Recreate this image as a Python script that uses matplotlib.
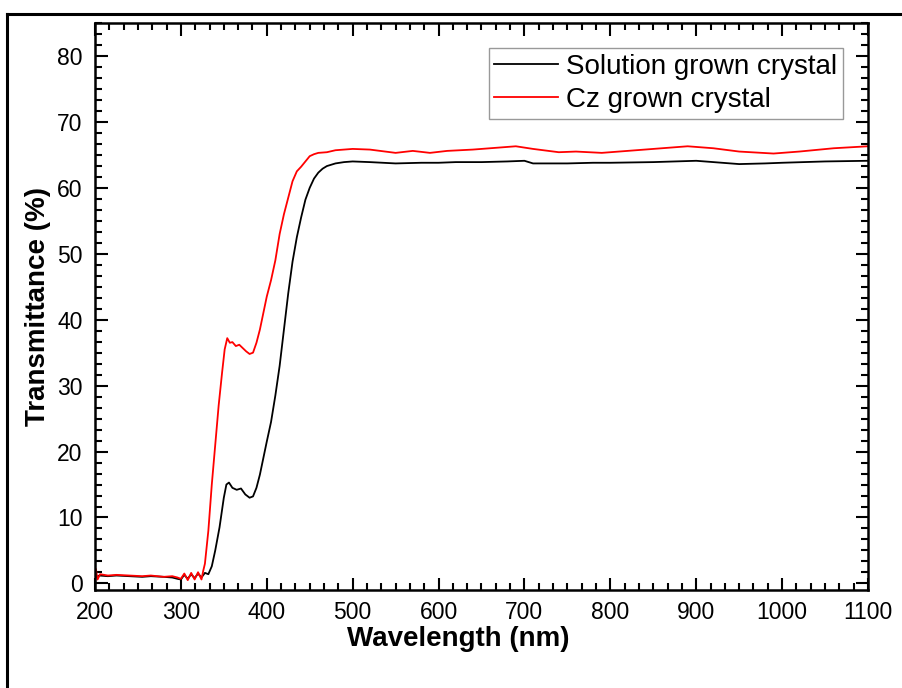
import matplotlib
matplotlib.use("Agg")
import matplotlib.pyplot as plt
from matplotlib.ticker import MultipleLocator, AutoMinorLocator
from matplotlib.lines import Line2D

plt.rcParams['font.family'] = ['Liberation Sans', 'DejaVu Sans']

# Solution grown crystal (black)
wl_sol = [200, 202, 205, 215, 225, 240, 255, 265, 280, 290, 296, 300, 304, 308, 312, 316, 320, 324,
          328, 332, 336, 340, 345, 350, 353, 356, 360, 365, 370, 375, 380, 384, 388, 392, 396, 400,
          405, 410, 415, 420, 425, 430, 435, 440, 445, 450, 455, 460, 465, 470, 480, 490, 500, 520,
          550, 580, 600, 620, 650, 680, 700, 710, 750, 780, 800, 850, 900, 930, 950, 980, 1000,
          1050, 1100]
t_sol = [1.6, 1.0, 1.2, 1.1, 1.2, 1.1, 1.0, 1.1, 1.0, 0.9, 0.7, 0.6, 1.3, 0.7, 1.4, 0.8, 1.5, 0.9,
         1.6, 1.4, 2.6, 5.0, 8.5, 13.0, 15.0, 15.3, 14.5, 14.2, 14.4, 13.5, 13.0, 13.2, 14.5, 16.5,
         19.0, 21.5, 24.5, 28.5, 33.0, 38.5, 44.0, 48.8, 52.5, 55.5, 58.2, 60.0, 61.4, 62.3, 62.9,
         63.3, 63.7, 63.9, 64.0, 63.9, 63.7, 63.8, 63.8, 63.9, 63.9, 64.0, 64.1, 63.7, 63.7, 63.8,
         63.8, 63.9, 64.1, 63.8, 63.6, 63.7, 63.8, 64.0, 64.1]

# Cz grown crystal (red)
wl_cz = [200, 201, 203, 206, 215, 225, 240, 255, 265, 280, 290, 296, 300, 304, 308, 312, 316, 320,
         324, 326, 328, 332, 336, 340, 344, 348, 351, 354, 357, 360, 364, 368, 372, 376, 380, 384,
         388, 392, 396, 400, 405, 410, 415, 420, 425, 430, 435, 440, 445, 450, 455, 460, 470, 480,
         490, 500, 520, 550, 570, 590, 610, 640, 660, 690, 710, 740, 760, 790, 820, 860, 890, 920,
         950, 990, 1020, 1060, 1100]
t_cz = [0.3, 2.2, 0.6, 1.4, 1.2, 1.3, 1.2, 1.1, 1.2, 1.0, 1.1, 0.9, 0.7, 1.5, 0.5, 1.6, 0.6, 1.7,
        0.6, 1.9, 3.0, 8.0, 15.0, 21.0, 27.0, 32.0, 35.5, 37.2, 36.5, 36.6, 36.0, 36.2, 35.7, 35.2,
        34.8, 35.0, 36.5, 38.5, 41.0, 43.5, 46.0, 49.0, 53.0, 56.0, 58.5, 61.0, 62.5, 63.2, 64.0,
        64.8, 65.1, 65.3, 65.4, 65.7, 65.8, 65.9, 65.8, 65.3, 65.6, 65.3, 65.6, 65.8, 66.0, 66.3,
        65.9, 65.4, 65.5, 65.3, 65.6, 66.0, 66.3, 66.0, 65.5, 65.2, 65.5, 66.0, 66.3]

fig = plt.figure(figsize=(9.02, 6.88), dpi=100)
ax = fig.add_axes([0.1053, 0.1424, 0.857, 0.8242])

ax.plot(wl_sol, t_sol, color='black', lw=1.3, label='Solution grown crystal')
ax.plot(wl_cz, t_cz, color='red', lw=1.3, label='Cz grown crystal')

ax.set_xlim(200, 1100)
ax.set_ylim(-1, 85)
ax.xaxis.set_major_locator(MultipleLocator(100))
ax.xaxis.set_minor_locator(AutoMinorLocator(6))
ax.yaxis.set_major_locator(MultipleLocator(10))
ax.yaxis.set_minor_locator(AutoMinorLocator(6))
ax.tick_params(which='both', direction='in', top=True, right=True, labelsize=16.5, width=1.5)
ax.tick_params(which='major', length=9)
ax.tick_params(which='minor', length=5)
ax.tick_params(axis='x', which='major', pad=8)
ax.tick_params(axis='y', which='major', pad=9)
for s in ax.spines.values():
    s.set_linewidth(1.8)

ax.set_xlabel('Wavelength (nm)', fontsize=20, fontweight='bold')
ax.xaxis.set_label_coords(0.47, -0.064, transform=ax.transAxes)
ax.set_ylabel('Transmittance (%)', fontsize=20, fontweight='bold', labelpad=4)

leg = ax.legend(loc='upper right', bbox_to_anchor=(0.9677, 0.955), fontsize=20, fancybox=False,
                handlelength=2.3, handletextpad=0.3, borderpad=0.2, labelspacing=0.25,
                borderaxespad=0)
leg.get_frame().set_edgecolor('#808080')
leg.get_frame().set_linewidth(1.0)

# outer frame (left and top edges visible)
fig.add_artist(Line2D([0.0078, 0.0078], [0.0, 0.9797], color='black', lw=2.2, transform=fig.transFigure))
fig.add_artist(Line2D([0.0078, 1.0], [0.9797, 0.9797], color='black', lw=2.2, transform=fig.transFigure))

fig.savefig('out.png', dpi=100)
